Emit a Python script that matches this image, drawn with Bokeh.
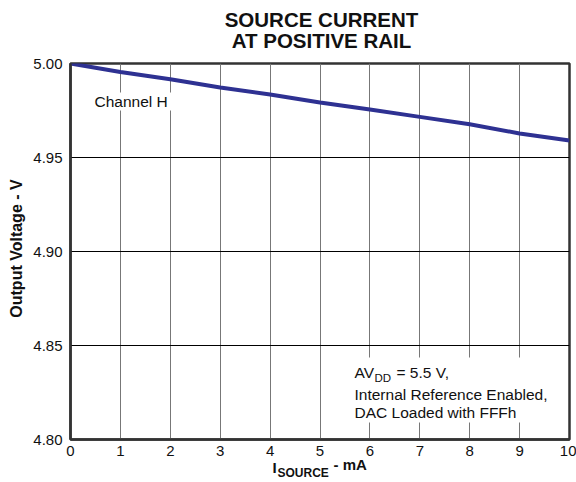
import math
from bokeh.plotting import figure
from bokeh.models import BoxAnnotation, FixedTicker, NumeralTickFormatter, Range1d
from bokeh.core.properties import value
from bokeh.embed import file_html
from bokeh.resources import INLINE

# ---- data ----
i_source_ma = [0, 1, 2, 3, 4, 5, 6, 7, 8, 9, 10]
output_voltage = [5.000, 4.9955, 4.9916, 4.9872, 4.9835, 4.9793, 4.9755, 4.9716, 4.9677, 4.9628, 4.959]
x_ticks = [0, 1, 2, 3, 4, 5, 6, 7, 8, 9, 10]
y_ticks = [4.80, 4.85, 4.90, 4.95, 5.00]
title_lines = ["SOURCE CURRENT", "AT POSITIVE RAIL"]
series_label = "Channel H"

FONT = "Liberation Sans"
W, H = 576, 482
L, R, T, B = 70, 7, 63, 43
X0, X1, Y0, Y1 = 0, 10, 4.80, 5.00
fw, fh = W - L - R, H - T - B

def dx(px):
    return X0 + (px - L) / fw * (X1 - X0)

def dy(py):
    return Y1 - (py - T) / fh * (Y1 - Y0)

p = figure(width=W, height=H, output_backend="svg", toolbar_location=None,
           x_range=Range1d(X0, X1), y_range=Range1d(Y0, Y1),
           min_border_left=L, min_border_right=R, min_border_top=T, min_border_bottom=B)
p.title = None
p.background_fill_color = "white"
p.border_fill_color = "white"
p.outline_line_color = "#333333"
p.outline_line_width = 2.5

# grid
p.xgrid.ticker = FixedTicker(ticks=x_ticks)
p.ygrid.ticker = FixedTicker(ticks=y_ticks)
p.xgrid.grid_line_color = "#777777"
p.xgrid.grid_line_width = 1
p.ygrid.grid_line_color = "#000000"
p.ygrid.grid_line_width = 1

for ax in (p.xaxis[0], p.yaxis[0]):
    ax.axis_line_color = "#333333"
    ax.axis_line_width = 2.5
    ax.major_tick_line_color = None
    ax.minor_tick_line_color = None
    ax.major_label_text_font = FONT
    ax.major_label_text_font_size = "15px"
    ax.major_label_text_color = "#111111"

p.xaxis.ticker = FixedTicker(ticks=x_ticks)
p.yaxis.ticker = FixedTicker(ticks=y_ticks)
p.yaxis.formatter = NumeralTickFormatter(format="0.00")
p.xaxis.major_label_standoff = 0
p.yaxis.major_label_standoff = 2

# data line
p.line(i_source_ma, output_voltage, line_color="#2E3192", line_width=4)

# annotation white boxes
p.add_layout(BoxAnnotation(left=dx(340), right=dx(567), top=dy(357), bottom=dy(422),
                           fill_color="white", fill_alpha=1.0, line_color=None, level="underlay"))
p.add_layout(BoxAnnotation(left=dx(90), right=dx(172), top=dy(92), bottom=dy(110),
                           fill_color="white", fill_alpha=1.0, line_color=None, level="underlay"))

def lab(px, py, text, size="15.5px", bold=False, align="left", angle=0.0):
    p.text(x=[dx(px)], y=[dy(py)], text=[text], text_font=value(FONT),
           text_font_size=value(size), text_font_style="bold" if bold else "normal",
           text_color="#111111", text_align=align, text_baseline="middle",
           angle=angle, level="overlay")

# in-plot labels
lab(94, 101, series_label)
lab(354, 372, "AV")
lab(374, 377, "DD", size="11.5px")
lab(396, 372, "= 5.5 V,")
lab(354, 394, "Internal Reference Enabled,")
lab(354, 412, "DAC Loaded with FFFh")

# outside labels
lab(321, 19, title_lines[0], size="20.5px", bold=True, align="center")
lab(321, 40, title_lines[1], size="20.5px", bold=True, align="center")
lab(16, 248, "Output Voltage - V", size="16px", bold=True, align="center", angle=math.pi / 2)
lab(272, 467, "I", size="15px", bold=True)
lab(277, 472, "SOURCE", size="12px", bold=True)
lab(333, 464, "- mA", size="15px", bold=True)

open("out.html", "w").write(file_html(p, INLINE))
